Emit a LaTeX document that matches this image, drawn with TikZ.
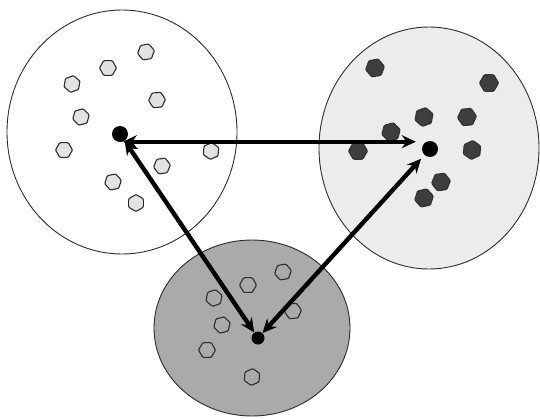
\documentclass[tikz,border=0pt]{standalone}
\usetikzlibrary{arrows.meta,shapes.geometric,calc}
\definecolor{rimgray}{RGB}{45,45,45}
\definecolor{paleset}{RGB}{236,236,236}
\definecolor{midset}{RGB}{170,170,170}
\definecolor{lightchip}{RGB}{226,226,226}
\definecolor{darkchip}{RGB}{62,62,62}
\tikzset{
  region/.style={draw=rimgray, line width=0.9pt},
  chip/.style={regular polygon, regular polygon sides=6, minimum size=17pt,
               inner sep=0pt, line width=1.1pt, rounded corners=1pt},
  whitechip/.style={chip, draw=rimgray, fill=lightchip},
  blackchip/.style={chip, draw=darkchip!80!black, fill=darkchip, minimum size=19pt},
  hollowchip/.style={chip, draw=rimgray, fill=midset},
  hub/.style={circle, fill=black, minimum size=16pt, inner sep=0pt},
  link/.style={line width=4.4pt, black,
               {Stealth[length=14pt,width=13pt]}-{Stealth[length=14pt,width=13pt]}}
}
\begin{document}
\begin{tikzpicture}[x=1pt, y=-1pt]
  \useasboundingbox (0,0) rectangle (540,418);

  % the three clusters
  \draw[region, fill=white] (122,132) ellipse [x radius=115, y radius=122];
  \draw[region, fill=paleset] (429,148) ellipse [x radius=110, y radius=121];
  \draw[region, fill=midset] (252,328) ellipse [x radius=98, y radius=88];

  % members of the left cluster
  \foreach \n/\x/\y/\r in {1/146/52/10, 2/108/68/0, 3/72/84/20, 4/157/100/5,
      5/81/117/15, 6/64/150/0, 7/211/151/25, 8/162/166/8, 9/113/182/12, 10/136/203/30}
    \node[whitechip, rotate=\r] (l\n) at (\x,\y) {};

  % members of the right cluster
  \foreach \n/\x/\y/\r in {1/375/68/10, 2/489/83/0, 3/424/117/20, 4/467/117/5,
      5/391/132/15, 6/358/151/0, 7/472/150/25, 8/441/182/8, 9/424/198/12}
    \node[blackchip, rotate=\r] (r\n) at (\x,\y) {};

  % members of the bottom cluster
  \foreach \n/\x/\y/\r in {1/283/272/10, 2/248/285/0, 3/214/298/20, 4/293/311/5,
      5/222/325/15, 6/207/350/0, 7/252/377/25}
    \node[hollowchip, rotate=\r] (b\n) at (\x,\y) {};

  % cluster centres
  \node[hub] (L) at (120,134) {};
  \node[hub] (R) at (430,149) {};
  \node[hub, minimum size=13pt] (B) at (258,338) {};

  % distances between the centres
  \draw[link] (L.-70) -- ($(L.-70 -| R.west)+(-6,0)$);
  \draw[link] (B) -- (L);
  \draw[link, shorten >=5pt] (B) -- (R);
\end{tikzpicture}
\end{document}
